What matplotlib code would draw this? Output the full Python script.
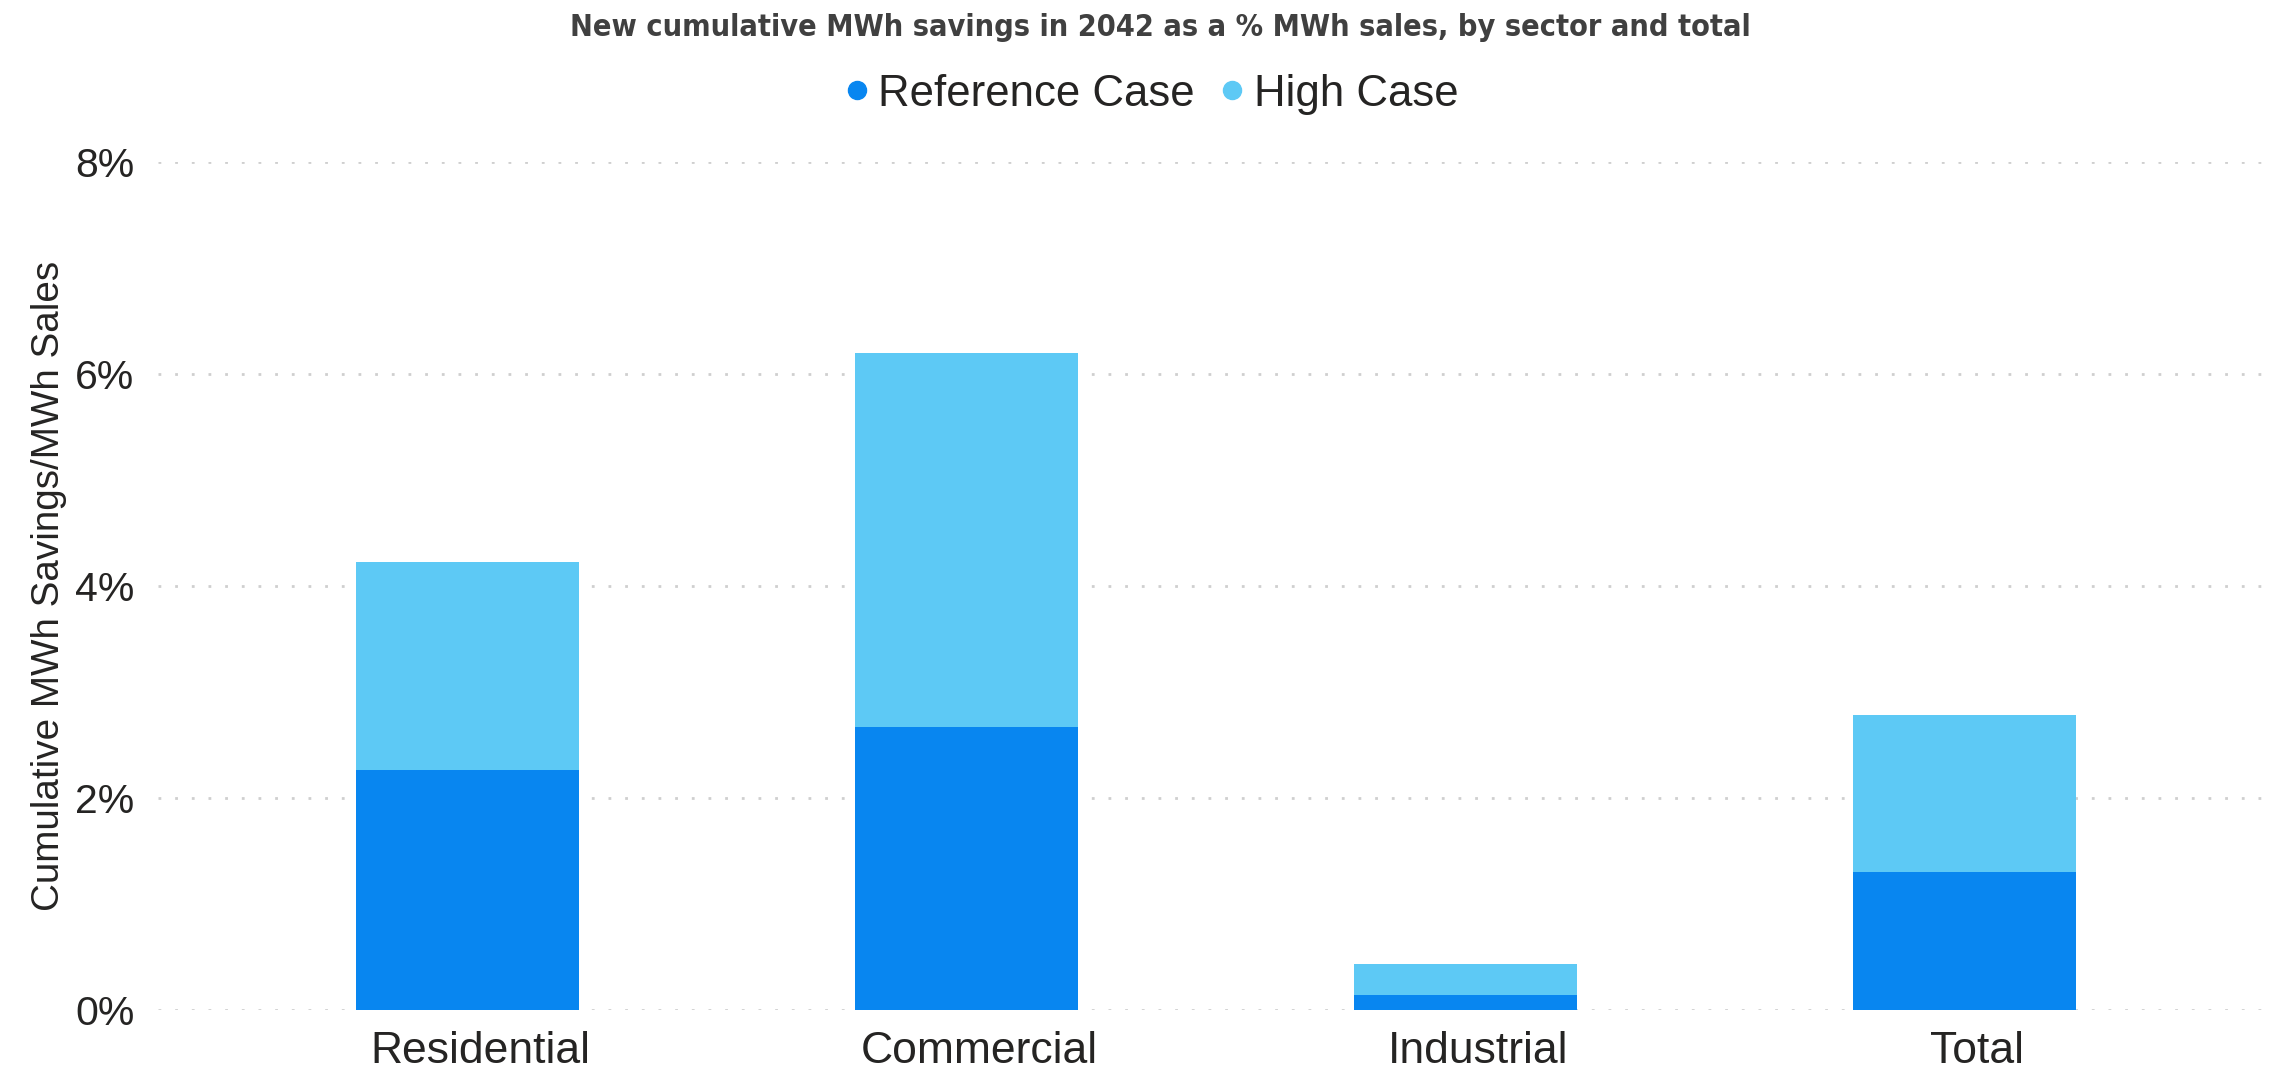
import matplotlib
matplotlib.use("Agg")
import matplotlib.pyplot as plt
import matplotlib.transforms as mtransforms
from matplotlib.lines import Line2D
from matplotlib.ticker import FuncFormatter

categories = ["Residential", "Commercial", "Industrial", "Total"]
reference_case = [2.26, 2.67, 0.14, 1.30]
high_case = [1.97, 3.53, 0.29, 1.48]  # increment stacked above Reference Case
yticks = [0, 2, 4, 6, 8]

REF_COLOR = "#0886F0"
HIGH_COLOR = "#5DC9F5"
TEXT = "#252423"

plt.rcParams['font.family'] = ['Liberation Sans', 'DejaVu Sans']

fig = plt.figure(figsize=(22.93, 10.71), dpi=100)
ax = fig.add_axes([0.0689, 0.057, 0.9185, 0.7917])

x = list(range(len(categories)))
ax.bar(x, reference_case, width=0.448, color=REF_COLOR, zorder=3)
ax.bar(x, high_case, width=0.448, bottom=reference_case, color=HIGH_COLOR, zorder=3)

ax.set_xlim(-0.62, 3.6)
ax.set_ylim(0, 8)
ax.set_yticks(yticks)
ax.yaxis.set_major_formatter(FuncFormatter(lambda v, p: f"{v:.0f}%"))
ax.set_xticks(x)
ax.set_xticklabels(categories)
ax.tick_params(axis='both', length=0, labelcolor=TEXT)
ax.tick_params(axis='x', labelsize=32, pad=15)
ax.tick_params(axis='y', labelsize=29.5, pad=17)
ax.grid(axis='y', linestyle=(0, (1, 5)), color="#CFCFCF", linewidth=2, zorder=0)
for s in ax.spines.values():
    s.set_visible(False)

offset = mtransforms.ScaledTranslation(12.5 / 100, 0, fig.dpi_scale_trans)
for lbl in ax.get_xticklabels():
    lbl.set_transform(lbl.get_transform() + offset)

ax.set_ylabel("Cumulative MWh Savings/MWh Sales", fontsize=27.8, color=TEXT, labelpad=6)

fig.text(0.506, 0.974, "New cumulative MWh savings in 2042 as a % MWh sales, by sector and total",
         ha='center', va='center', fontsize=22, fontweight='bold', fontstretch='condensed',
         color="#404040", family=['DejaVu Sans'])

handles = [Line2D([], [], marker='o', linestyle='', markersize=13, color=REF_COLOR),
           Line2D([], [], marker='o', linestyle='', markersize=13, color=HIGH_COLOR)]
fig.legend(handles, ["Reference Case", "High Case"], loc='center', bbox_to_anchor=(0.5025, 0.912),
           ncol=2, frameon=False, fontsize=31.5, handlelength=0.5, handletextpad=0.25,
           columnspacing=0.6, labelcolor=TEXT, borderaxespad=0)

fig.savefig("out.png", dpi=100)
